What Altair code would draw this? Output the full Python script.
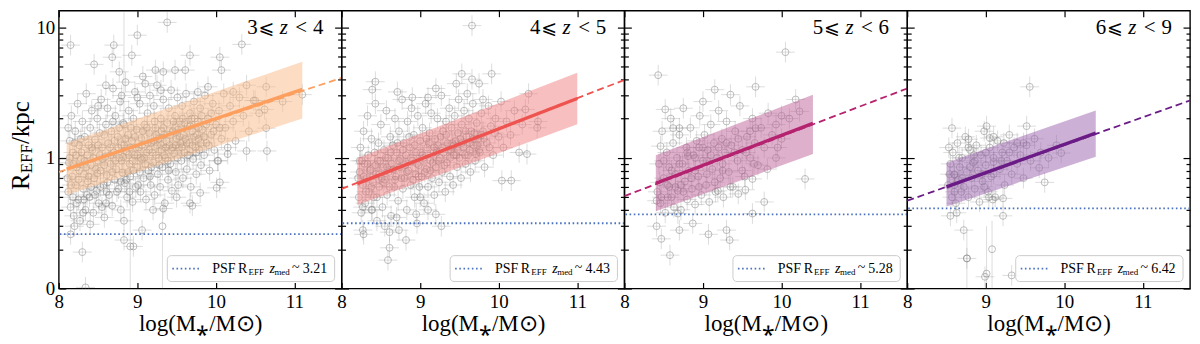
import altair as alt
import pandas as pd

FONT = "Liberation Serif"
SYM_FONT = "DejaVu Sans"

X_DOMAIN = [8.0, 11.6]
Y_DOMAIN = [0.1, 13.4]
X_TICKS = [8, 9, 10, 11]
Y_MAJOR = [0.1, 1, 10]
Y_MINOR = [0.2, 0.3, 0.4, 0.5, 0.6, 0.7, 0.8, 0.9, 2, 3, 4, 5, 6, 7, 8, 9]

Z_LO = ["3", "4", "5", "6"]
Z_HI = ["4", "5", "6", "9"]
Z_MED = ["3.21", "4.43", "5.28", "6.42"]
PSF_REFF = [0.261, 0.316, 0.37, 0.41]

LINE_COLORS = ["#fd9f5e", "#ef5350", "#b5226f", "#6a1b86"]
BAND_COLORS = ["#fcb98a", "#f08080", "#bd6197", "#9c62ae"]
PSF_COLOR = "#4a72c2"

FIT_X = [8.0, 11.6]
FIT_Y = [[0.78, 4.1], [0.58, 3.95], [0.51, 3.4], [0.47, 2.75]]
SOLID_X = [[8.1, 11.1], [8.2, 11.0], [8.4, 10.4], [8.5, 10.4]]
SOLID_Y = [[0.82, 3.35], [0.635, 2.85], [0.64, 1.84], [0.60, 1.55]]
BAND_LO = [[0.52, 2.0], [0.435, 1.81], [0.39, 1.07], [0.425, 1.02]]
BAND_HI = [[1.30, 5.45], [1.0, 4.48], [1.05, 3.05], [0.92, 2.31]]

XERR = 0.12
YERR = 1.2

PTS_1 = [
    (8.12, 0.55), (8.13, 0.92), (8.14, 1.35), (8.15, 0.42), (8.16, 2.1), (8.17, 0.72), (8.18, 1.1), (8.19, 0.36),
    (8.21, 1.6), (8.22, 0.62), (8.23, 0.85), (8.24, 2.6), (8.25, 0.48), (8.26, 1.25), (8.27, 0.33), (8.28, 0.98),
    (8.30, 1.9), (8.31, 0.58), (8.32, 0.75), (8.33, 1.45), (8.34, 0.4), (8.35, 3.1), (8.36, 1.05), (8.37, 0.66),
    (8.39, 0.5), (8.40, 1.7), (8.41, 0.88), (8.42, 2.3), (8.43, 1.15), (8.44, 0.38), (8.45, 0.7), (8.46, 1.38),
    (8.48, 0.56), (8.49, 2.0), (8.50, 0.95), (8.51, 0.45), (8.52, 1.55), (8.53, 0.8), (8.54, 2.8), (8.55, 1.2),
    (8.57, 0.62), (8.58, 0.35), (8.59, 1.02), (8.60, 1.8), (8.61, 0.74), (8.62, 2.4), (8.63, 1.3), (8.64, 0.52),
    (8.66, 0.9), (8.67, 1.6), (8.68, 0.43), (8.69, 3.4), (8.70, 1.1), (8.71, 0.68), (8.72, 2.1), (8.73, 0.82),
    (8.75, 1.45), (8.76, 0.58), (8.77, 1.0), (8.78, 2.7), (8.79, 0.4), (8.80, 1.25), (8.81, 0.77), (8.82, 1.85),
    (8.84, 0.64), (8.85, 3.8), (8.86, 1.12), (8.87, 0.5), (8.88, 1.5), (8.89, 2.3), (8.90, 0.9), (8.91, 0.72),
    (8.93, 1.35), (8.94, 0.46), (8.95, 2.0), (8.96, 1.05), (8.97, 3.2), (8.98, 0.6), (8.99, 1.65), (9.00, 0.85),
    (9.02, 1.2), (9.03, 2.6), (9.04, 0.55), (9.05, 1.42), (9.06, 0.97), (9.07, 4.2), (9.08, 0.7), (9.09, 1.8),
    (9.11, 0.48), (9.12, 1.1), (9.13, 2.2), (9.14, 0.8), (9.15, 1.55), (9.16, 3.0), (9.17, 0.62), (9.18, 1.3),
    (9.20, 0.92), (9.21, 2.5), (9.22, 0.52), (9.23, 1.7), (9.24, 1.05), (9.25, 3.6), (9.26, 0.75), (9.27, 1.4),
    (9.29, 0.6), (9.30, 2.0), (9.31, 1.15), (9.32, 0.85), (9.33, 2.8), (9.34, 1.5), (9.35, 0.45), (9.36, 1.0),
    (9.38, 1.85), (9.39, 0.68), (9.40, 2.4), (9.41, 1.25), (9.42, 0.9), (9.43, 3.3), (9.44, 0.56), (9.45, 1.6),
    (9.47, 1.08), (9.48, 2.1), (9.49, 0.78), (9.50, 1.4), (9.51, 2.9), (9.52, 0.62), (9.53, 1.2), (9.54, 1.9),
    (9.56, 0.95), (9.57, 2.5), (9.58, 0.7), (9.59, 1.5), (9.60, 1.1), (9.62, 3.1), (9.63, 0.82), (9.64, 1.75),
    (9.66, 1.3), (9.67, 2.2), (9.68, 0.6), (9.70, 1.6), (9.71, 0.98), (9.72, 2.7), (9.74, 1.2), (9.75, 0.75),
    (9.77, 1.9), (9.78, 1.4), (9.80, 2.4), (9.81, 0.88), (9.83, 1.65), (9.85, 1.05), (9.86, 3.0), (9.88, 1.3),
    (9.90, 2.0), (9.92, 0.8), (9.94, 1.5), (9.96, 2.6), (9.98, 1.15), (10.0, 1.8), (10.02, 0.95), (10.04, 2.3),
    (10.07, 1.4), (10.10, 3.1), (10.12, 1.7), (10.15, 1.2), (10.18, 2.5), (10.22, 1.9), (10.25, 1.35), (10.3, 2.9),
    (10.35, 2.1), (10.42, 1.6), (10.48, 2.75), (10.55, 2.2),
    (8.11, 0.7), (8.14, 1.0), (8.18, 0.5), (8.2, 1.3), (8.23, 0.45), (8.26, 0.8), (8.29, 1.1), (8.31, 0.38),
    (8.33, 0.95), (8.36, 0.52), (8.38, 1.25), (8.41, 0.6), (8.44, 1.0), (8.47, 0.82), (8.5, 1.25), (8.53, 0.6),
    (8.56, 0.98), (8.58, 1.5), (8.61, 0.55), (8.65, 1.2), (8.68, 0.78), (8.71, 1.35), (8.74, 0.55), (8.77, 1.7),
    (8.8, 0.95), (8.83, 1.25), (8.86, 0.68), (8.89, 1.05), (8.92, 1.7), (8.95, 0.8), (8.98, 1.2), (9.01, 0.62),
    (9.04, 1.0), (9.07, 1.6), (9.1, 0.9), (9.13, 1.3), (9.16, 0.72), (9.19, 1.1), (9.22, 1.9), (9.25, 1.25),
    (9.28, 0.88), (9.31, 1.6), (9.34, 1.05), (9.37, 1.35), (9.4, 0.8), (9.43, 1.15), (9.46, 1.9), (9.49, 1.25),
    (9.52, 1.65), (9.55, 1.3), (9.58, 2.0), (9.61, 1.4), (9.64, 1.05), (9.67, 1.75), (9.7, 1.25), (9.73, 2.0),
    (9.76, 1.5), (9.79, 1.15), (9.82, 2.1), (9.85, 1.45), (9.88, 1.8), (9.91, 1.25), (9.94, 2.2), (9.97, 1.6),
    (8.2, 0.3), (8.4, 0.31), (8.6, 0.45), (8.9, 0.55), (9.2, 0.4), (9.5, 0.5), (8.5, 2.5), (8.8, 3.0),
    (9.0, 2.9), (9.3, 3.3), (9.1, 3.7), (8.6, 3.6),
    (8.12, 1.7), (8.16, 0.62), (8.19, 0.9), (8.22, 1.05), (8.25, 0.68), (8.28, 1.4), (8.32, 0.48), (8.35, 0.85),
    (8.38, 0.72), (8.42, 1.2), (8.46, 0.52), (8.49, 0.76), (8.52, 1.05), (8.55, 0.42), (8.58, 0.88), (8.62, 0.65),
    (8.66, 1.05), (8.69, 1.9), (8.72, 0.95), (8.76, 1.2), (8.79, 0.66), (8.82, 1.02), (8.85, 1.4), (8.88, 0.78),
    (8.91, 1.2), (8.94, 0.95), (8.97, 1.45), (9.0, 1.05), (9.03, 0.78), (9.06, 1.25), (9.09, 1.0), (9.12, 1.7),
    (9.15, 1.15), (9.18, 0.85), (9.21, 1.35), (9.24, 1.5), (9.27, 1.0), (9.3, 1.25), (9.33, 1.7), (9.36, 1.2),
    (9.39, 0.95), (9.42, 1.5), (9.45, 1.2), (9.48, 1.7), (9.51, 1.0), (9.54, 1.45), (9.57, 1.2), (9.6, 1.85),
    (9.63, 1.3), (9.66, 1.05), (9.69, 2.0), (9.72, 1.45), (9.75, 1.1), (9.78, 1.7), (9.81, 1.3),
    (8.15, 7.3), (8.70, 7.3), (8.68, 5.9), (8.45, 5.2), (9.0, 8.7), (9.38, 10.9), (8.93, 6.1), (9.67, 6.1),
    (10.05, 5.9), (10.07, 4.7), (10.33, 7.4), (9.33, 4.56), (9.48, 4.7), (9.61, 4.7), (9.23, 4.7), (8.77, 4.56),
    (10.39, 3.6), (10.64, 3.5), (10.85, 2.7), (10.5, 2.75), (10.62, 2.35), (10.64, 1.69), (10.39, 1.13),
    (10.65, 1.13), (10.15, 1.07), (10.03, 0.95), (10.01, 0.59), (10.05, 0.65), (9.8, 0.54), (9.67, 0.45),
    (9.7, 0.43), (9.33, 0.41), (8.83, 0.33), (9.06, 0.28), (8.95, 0.21), (8.83, 0.235), (8.3, 0.19),
    (8.15, 0.26), (8.34, 0.102), (11.1, 3.05), (10.05, 1.7), (10.22, 3.2), (9.77, 3.2), (9.9, 3.5),
]

PTS_2 = [
    (8.22, 0.5), (8.23, 0.78), (8.24, 1.2), (8.25, 0.38), (8.27, 0.62), (8.28, 1.6), (8.29, 0.9), (8.30, 0.45),
    (8.32, 0.7), (8.33, 2.1), (8.34, 1.05), (8.35, 0.55), (8.37, 0.82), (8.38, 1.4), (8.39, 0.4), (8.40, 0.65),
    (8.42, 1.1), (8.43, 2.6), (8.44, 0.75), (8.45, 0.5), (8.47, 1.3), (8.48, 0.6), (8.49, 0.95), (8.50, 1.8),
    (8.52, 0.42), (8.53, 0.85), (8.54, 1.15), (8.55, 0.68), (8.57, 2.3), (8.58, 0.52), (8.59, 1.0), (8.60, 0.78),
    (8.62, 1.45), (8.63, 0.36), (8.64, 0.9), (8.65, 1.25), (8.67, 0.6), (8.68, 2.0), (8.69, 0.72), (8.70, 1.1),
    (8.72, 0.47), (8.73, 1.6), (8.74, 0.85), (8.75, 0.98), (8.77, 2.8), (8.78, 0.58), (8.79, 1.3), (8.80, 0.7),
    (8.82, 1.05), (8.83, 0.4), (8.84, 1.9), (8.85, 0.8), (8.87, 1.2), (8.88, 0.62), (8.89, 2.4), (8.90, 0.95),
    (8.92, 1.5), (8.93, 0.5), (8.94, 0.75), (8.95, 1.1), (8.97, 2.1), (8.98, 0.88), (8.99, 0.6), (9.00, 1.35),
    (9.02, 0.72), (9.03, 1.7), (9.04, 1.0), (9.05, 0.45), (9.07, 2.6), (9.08, 0.82), (9.09, 1.2), (9.10, 0.6),
    (9.12, 1.55), (9.13, 0.95), (9.14, 2.2), (9.15, 0.7), (9.17, 1.1), (9.18, 0.52), (9.19, 1.4), (9.20, 0.85),
    (9.22, 2.0), (9.23, 1.25), (9.24, 0.65), (9.25, 1.0), (9.27, 3.0), (9.28, 0.78), (9.29, 1.6), (9.30, 1.1),
    (9.32, 0.55), (9.33, 1.9), (9.34, 0.92), (9.35, 1.3), (9.37, 2.4), (9.38, 0.72), (9.39, 1.15), (9.40, 1.7),
    (9.42, 0.62), (9.43, 1.05), (9.44, 2.1), (9.45, 1.35), (9.47, 0.85), (9.48, 1.55), (9.49, 2.8), (9.50, 1.0),
    (9.52, 0.7), (9.53, 1.8), (9.55, 1.2), (9.56, 2.3), (9.58, 0.9), (9.59, 1.45), (9.61, 1.05), (9.62, 2.0),
    (9.64, 0.78), (9.65, 1.6), (9.67, 2.6), (9.68, 1.25), (9.70, 0.95), (9.72, 1.85), (9.74, 1.4), (9.76, 1.1),
    (9.78, 2.2), (9.80, 1.6), (9.82, 0.85), (9.85, 1.3), (9.87, 2.5), (9.90, 1.75), (9.93, 1.05), (9.96, 2.0),
    (10.0, 1.45), (10.03, 2.7), (10.06, 1.2), (10.1, 1.9), (10.15, 1.5), (10.2, 2.3), (10.26, 1.1), (10.3, 1.8),
    (8.21, 0.7), (8.26, 0.95), (8.31, 0.55), (8.36, 0.8), (8.41, 0.5), (8.46, 0.95), (8.51, 0.7), (8.56, 1.0),
    (8.61, 0.6), (8.66, 0.82), (8.71, 1.3), (8.76, 0.7), (8.81, 0.88), (8.86, 1.45), (8.91, 0.68), (8.96, 0.9),
    (9.01, 1.1), (9.06, 0.78), (9.11, 1.3), (9.16, 0.92), (9.21, 1.1), (9.26, 1.45), (9.31, 0.88), (9.36, 1.15),
    (9.41, 1.3), (9.46, 1.05), (9.51, 1.4), (9.57, 1.05), (9.63, 1.3), (9.69, 1.55), (9.75, 1.15), (9.81, 1.4),
    (9.88, 1.2), (9.95, 1.55), (8.45, 0.33), (8.7, 0.35), (9.0, 0.5), (9.1, 0.4), (8.55, 0.3), (8.9, 2.9),
    (9.1, 2.9), (9.6, 3.1), (9.8, 2.8),
    (8.23, 0.95), (8.28, 0.72), (8.33, 0.9), (8.38, 0.6), (8.43, 0.88), (8.48, 0.75), (8.53, 0.65), (8.58, 0.85),
    (8.63, 1.1), (8.68, 0.68), (8.73, 0.95), (8.78, 1.15), (8.83, 0.78), (8.88, 1.0), (8.93, 1.25), (8.98, 0.72),
    (9.03, 1.05), (9.08, 1.4), (9.13, 0.8), (9.18, 1.2), (9.23, 0.95), (9.28, 1.2), (9.33, 1.5), (9.38, 1.0),
    (9.43, 1.25), (9.48, 1.15), (9.53, 1.3), (9.58, 1.6), (9.63, 1.15), (9.68, 1.4), (9.73, 1.25), (9.78, 1.5),
    (9.66, 10.3), (8.39, 3.33), (8.43, 3.83), (8.71, 3.2), (9.2, 3.4), (9.46, 3.7), (9.66, 4.0), (9.75, 3.7),
    (9.91, 4.4), (9.53, 4.4), (10.38, 3.1), (10.34, 2.35), (10.5, 1.9), (10.49, 1.7), (10.36, 1.07),
    (10.04, 0.67), (10.16, 0.67), (9.71, 1.07), (8.27, 0.28), (8.28, 0.26), (8.61, 0.27), (8.61, 0.205),
    (8.59, 0.165), (8.82, 0.235), (8.73, 0.28), (8.96, 0.315), (9.27, 0.3), (9.2, 0.37), (8.95, 0.37),
    (8.38, 0.4), (8.27, 0.42),
]

PTS_3 = [
    (8.42, 0.55), (8.44, 0.9), (8.46, 0.45), (8.48, 1.6), (8.50, 0.7), (8.52, 0.38), (8.54, 1.1), (8.55, 0.62),
    (8.57, 0.85), (8.59, 2.0), (8.60, 0.5), (8.62, 1.3), (8.63, 0.42), (8.65, 0.75), (8.67, 1.0), (8.68, 0.56),
    (8.70, 1.5), (8.72, 0.4), (8.74, 0.9), (8.75, 2.4), (8.77, 0.66), (8.79, 1.2), (8.80, 0.48), (8.82, 0.8),
    (8.84, 1.7), (8.86, 0.58), (8.88, 1.05), (8.90, 0.44), (8.92, 1.35), (8.94, 0.72), (8.96, 2.1), (8.98, 0.52),
    (9.00, 0.95), (9.02, 1.5), (9.04, 0.62), (9.06, 1.15), (9.08, 0.46), (9.10, 1.8), (9.12, 0.82), (9.14, 1.3),
    (9.16, 0.55), (9.18, 1.0), (9.20, 2.3), (9.22, 0.7), (9.24, 1.4), (9.26, 0.5), (9.28, 1.1), (9.30, 1.9),
    (9.33, 0.78), (9.36, 1.25), (9.38, 0.6), (9.41, 1.6), (9.44, 0.95), (9.47, 2.5), (9.50, 1.15), (9.53, 0.72),
    (9.56, 1.45), (9.60, 1.0), (9.63, 2.0), (9.66, 1.3), (9.70, 0.88), (9.74, 1.7), (9.78, 1.2), (9.83, 2.2),
    (9.88, 1.5), (9.93, 1.8), (10.0, 1.4), (10.1, 2.0),
    (8.45, 0.65), (8.5, 0.95), (8.55, 0.5), (8.6, 0.8), (8.65, 0.6), (8.7, 0.9), (8.75, 0.55), (8.8, 1.1),
    (8.85, 0.7), (8.9, 1.0), (8.95, 0.6), (9.0, 1.2), (9.05, 0.75), (9.1, 1.05), (9.15, 0.65), (9.2, 1.2),
    (9.25, 0.9), (9.3, 1.3), (9.35, 0.6), (9.4, 1.1), (9.45, 1.4), (9.5, 0.8), (9.55, 1.1), (9.6, 1.6),
    (9.65, 0.9),
    (8.43, 4.3), (10.05, 6.45), (9.15, 3.33), (9.35, 3.05), (9.67, 3.5), (10.18, 2.8), (9.0, 2.7), (8.52, 2.35),
    (8.62, 1.69), (8.7, 1.69), (8.46, 1.23), (10.3, 0.69), (9.78, 0.46), (9.63, 0.375), (8.47, 0.24),
    (8.58, 0.18), (9.34, 0.235), (9.3, 0.28), (9.07, 0.26), (8.87, 0.315), (8.7, 0.28), (8.41, 0.3),
    (8.68, 0.375), (8.41, 0.47), (9.19, 0.56), (9.54, 0.57), (9.45, 0.53), (9.63, 0.69), (9.82, 0.82),
    (9.95, 1.2), (9.93, 1.0), (10.23, 2.27), (10.0, 2.1), (9.67, 1.69), (8.81, 1.03), (8.95, 1.2), (9.05, 0.95),
    (9.25, 0.8), (8.9, 0.8), (8.72, 0.62), (8.57, 0.6), (8.47, 0.5),
]

PTS_4 = [
    (8.52, 0.62), (8.55, 0.9), (8.57, 0.5), (8.58, 1.1), (8.60, 0.75), (8.62, 0.45), (8.64, 1.3), (8.65, 0.68),
    (8.67, 0.85), (8.69, 0.55), (8.70, 1.0), (8.72, 0.6), (8.74, 1.45), (8.76, 0.78), (8.78, 0.5), (8.80, 1.15),
    (8.82, 0.7), (8.84, 0.92), (8.86, 0.58), (8.88, 1.25), (8.90, 0.8), (8.92, 0.46), (8.94, 1.05), (8.96, 0.66),
    (8.98, 1.6), (9.00, 0.88), (9.03, 0.55), (9.05, 1.2), (9.07, 0.72), (9.10, 1.0), (9.12, 0.5), (9.15, 1.35),
    (9.18, 0.82), (9.21, 1.1), (9.24, 0.62), (9.27, 0.95), (9.30, 1.5), (9.33, 0.75), (9.36, 1.2), (9.40, 0.9),
    (9.44, 1.05), (9.48, 0.7), (9.52, 1.25), (9.57, 0.95), (9.62, 1.4), (9.70, 1.1), (9.80, 1.0), (9.90, 1.25),
    (8.54, 0.75), (8.6, 0.55), (8.66, 1.0), (8.7, 0.7), (8.8, 0.85), (8.85, 1.05), (8.95, 0.75), (9.0, 1.1),
    (9.1, 0.75), (9.2, 0.95), (9.3, 1.1), (9.4, 1.3),
    (9.56, 3.5), (8.57, 1.69), (9.01, 1.75), (9.05, 1.42), (9.1, 1.45), (9.52, 1.75), (8.78, 1.39), (8.53, 1.2),
    (8.78, 1.2), (9.23, 1.3), (9.48, 1.3), (9.96, 1.09), (9.68, 0.84), (9.75, 0.65), (8.6, 0.74), (8.86, 0.95),
    (9.1, 0.93), (8.98, 0.6), (9.22, 0.49), (9.22, 0.36), (8.55, 0.36), (8.63, 0.38), (8.72, 0.28),
    (8.76, 0.17), (8.99, 0.123), (9.33, 0.126), (9.04, 0.5), (9.09, 0.48), (8.6, 0.62),
]

# points with large vertical error bars: x, y, y_low, y_high
BIG_1 = [(8.83, 1.8, 0.6, 13.0), (8.91, 0.21, 0.1, 0.6), (9.32, 0.3, 0.1, 0.42)]
BIG_2 = []
BIG_3 = []
BIG_4 = [(9.01, 0.13, 0.1, 0.3), (9.08, 0.2, 0.1, 0.33), (8.76, 0.17, 0.1, 0.27)]

POINTS = [PTS_1, PTS_2, PTS_3, PTS_4]
BIG = [BIG_1, BIG_2, BIG_3, BIG_4]

W, H = 284, 279
ONE = pd.DataFrame({"k": [0]})
xs = alt.Scale(domain=X_DOMAIN, nice=False, zero=False)
ys = alt.Scale(type="log", domain=Y_DOMAIN, nice=False)


def X(f, axis=None):
    return alt.X(f, type="quantitative", scale=xs, axis=axis)


def Y(f, axis=None):
    return alt.Y(f, type="quantitative", scale=ys, axis=axis)


def txt(text, x, y, size, style="normal", align="left", baseline="middle", angle=0, font=FONT):
    return alt.Chart(ONE).mark_text(
        text=text, font=font, fontSize=size, fontStyle=style, align=align,
        baseline=baseline, angle=angle, color="black"
    ).encode(x=alt.value(x), y=alt.value(y))


def panel(i):
    pts = pd.DataFrame(POINTS[i], columns=["x", "y"])
    pts["xlo"] = pts["x"] - XERR
    pts["xhi"] = pts["x"] + XERR
    pts["ylo"] = pts["y"] / YERR
    pts["yhi"] = pts["y"] * YERR
    err = dict(color="#9a9a9a", opacity=0.34, strokeWidth=1, clip=True)
    pt_style = dict(shape="circle", filled=False, size=48, color="#777777", opacity=0.48, strokeWidth=1, clip=True)
    layers = [
        alt.Chart(pts).mark_rule(**err).encode(x=X("xlo"), x2="xhi", y=Y("y")),
        alt.Chart(pts).mark_rule(**err).encode(x=X("x"), y=Y("ylo"), y2="yhi"),
    ]
    if BIG[i]:
        big = pd.DataFrame(BIG[i], columns=["x", "y", "ylo", "yhi"])
        layers.append(alt.Chart(big).mark_rule(**err).encode(x=X("x"), y=Y("ylo"), y2="yhi"))
        layers.append(alt.Chart(big).mark_point(**pt_style).encode(x=X("x"), y=Y("y")))
    layers.append(alt.Chart(pts).mark_point(**pt_style).encode(x=X("x"), y=Y("y")))
    band = pd.DataFrame({"x": SOLID_X[i], "lo": BAND_LO[i], "hi": BAND_HI[i]})
    layers.append(alt.Chart(band).mark_area(color=BAND_COLORS[i], opacity=0.5).encode(
        x=X("x"), y=Y("lo"), y2="hi"))
    dash = pd.DataFrame({"x": FIT_X, "y": FIT_Y[i]})
    layers.append(alt.Chart(dash).mark_line(color=LINE_COLORS[i], strokeDash=[7, 4], strokeWidth=1.8,
                                            clip=True).encode(x=X("x"), y=Y("y")))
    solid = pd.DataFrame({"x": SOLID_X[i], "y": SOLID_Y[i]})
    layers.append(alt.Chart(solid).mark_line(color=LINE_COLORS[i], strokeWidth=3.4).encode(
        x=X("x"), y=Y("y")))
    psf = pd.DataFrame({"y": [PSF_REFF[i]]})
    layers.append(alt.Chart(psf).mark_rule(color=PSF_COLOR, strokeDash=[1.6, 2.6], strokeWidth=1.8).encode(
        y=Y("y")))
    # legend box
    layers.append(alt.Chart(ONE).mark_rect(fill="white", fillOpacity=0.85, stroke="#cccccc", strokeWidth=1,
                                           cornerRadius=4).encode(
        x=alt.value(109), x2=alt.value(277), y=alt.value(246), y2=alt.value(272)))
    layers.append(alt.Chart(ONE).mark_rule(color=PSF_COLOR, strokeDash=[1.6, 2.6], strokeWidth=1.8).encode(
        x=alt.value(114), x2=alt.value(142), y=alt.value(259)))
    layers += [
        txt("PSF", 154, 259, 14),
        txt("R", 180, 259, 14),
        txt("EFF", 190.5, 262, 9),
        txt("z", 211.5, 259, 14, "italic"),
        txt("med", 216.5, 262, 9),
        txt("~", 238, 258, 14, align="center"),
        txt(Z_MED[i], 245, 259, 14),
    ]
    # panel label
    layers += [
        txt(Z_LO[i], 194.5, 17, 21, align="center"),
        txt("⩽", 208.5, 17, 19, align="center", font=SYM_FONT),
        txt("z", 226, 17, 21, "italic", align="center"),
        txt("<", 243.5, 17, 21, align="center"),
        txt(Z_HI[i], 260.5, 17, 21, align="center"),
    ]
    if i == 0:
        layers += [
            txt("R", -30, 180, 25, baseline="alphabetic", angle=270),
            txt("EFF", -27, 163.3, 17, baseline="alphabetic", angle=270),
            txt("/kpc", -30, 134, 25, baseline="alphabetic", angle=270),
        ]

    tick = dict(domain=False, grid=False, tickColor="black", tickWidth=1.2, title=None)
    x_bottom = alt.Axis(orient="bottom", values=X_TICKS, tickSize=6, offset=-6, domain=False, grid=False,
                        tickColor="black", tickWidth=1.2, labelFont=FONT, labelFontSize=19, labelColor="black",
                        labelPadding=4, labelFlush=False, labelOverlap=False, format="d",
                        title="log(M⁎/M⊙)", titleFont=FONT, titleFontSize=23, titleFontWeight="normal",
                        titleColor="black", titlePadding=1)
    x_top = alt.Axis(orient="top", values=X_TICKS, tickSize=6, offset=-6, labels=False, **tick)
    y_left_major = alt.Axis(orient="left", values=Y_MAJOR, tickSize=7, offset=-7, labels=(i == 0),
                            labelExpr="datum.value >= 5 ? '10' : (datum.value >= 0.5 ? '1' : '0')",
                            labelFont=FONT, labelFontSize=19, labelColor="black", labelPadding=4,
                            labelOverlap=False, **tick)
    y_left_minor = alt.Axis(orient="left", values=Y_MINOR, tickSize=4, offset=-4, labels=False, **tick)
    y_right_major = alt.Axis(orient="right", values=Y_MAJOR, tickSize=7, offset=-7, labels=False, **tick)
    y_right_minor = alt.Axis(orient="right", values=Y_MINOR, tickSize=4, offset=-4, labels=False, **tick)

    carrier = pd.DataFrame({"x": [9.0], "y": [1.0]})

    def car(xa, ya):
        return alt.Chart(carrier).mark_point(opacity=0).encode(x=X("x", xa), y=Y("y", ya))

    layers += [
        car(x_bottom, y_left_major),
        car(x_top, y_left_minor),
        car(None, y_right_major),
        car(None, y_right_minor),
    ]
    return alt.layer(*layers).resolve_axis(x="independent", y="independent").properties(width=W, height=H)


chart = alt.hconcat(*[panel(i) for i in range(4)], spacing=0, bounds="flush").properties(
    padding={"left": 0, "top": 0, "right": 0, "bottom": 0}, background="white"
).configure_view(stroke="black", strokeWidth=1.4)

chart.save("out.html", embed_options={"renderer": "svg", "actions": False})
